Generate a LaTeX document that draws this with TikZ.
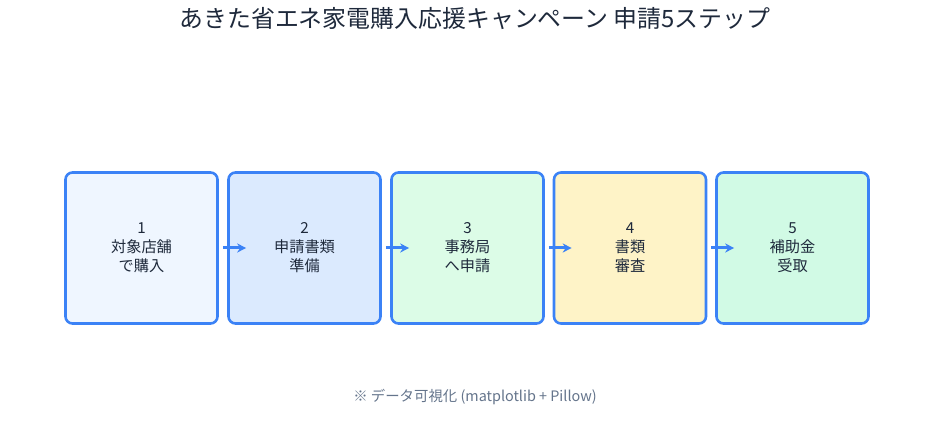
\documentclass[tikz,border=0pt]{standalone}
\usepackage{fontspec}
\setmainfont{Noto Sans CJK JP}
\usepackage{xcolor}
\usepackage{tikz}
\usetikzlibrary{arrows.meta, positioning}
\definecolor{stblue}{HTML}{3B82F6}
\definecolor{stink}{HTML}{1E293B}
\definecolor{stgray}{HTML}{64748B}
\definecolor{stfa}{HTML}{EFF6FF}
\definecolor{stfb}{HTML}{DBEAFE}
\definecolor{stfc}{HTML}{DCFCE7}
\definecolor{stfd}{HTML}{FEF3C7}
\definecolor{stfe}{HTML}{D1FAE5}

\begin{document}
\begin{tikzpicture}[
  x=1pt, y=-1pt,
  every node/.style={text=stink},
  stepbox/.style={rectangle, draw=stblue, line width=2.6pt, rounded corners=7pt,
                  minimum width=152pt, minimum height=151pt, align=center,
                  font=\fontsize{15.2}{19}\selectfont},
  arr/.style={-{Stealth[length=9pt, width=9pt]}, line width=3pt, color=stblue,
              shorten <=4pt, shorten >=-19pt},
  note/.style={font=\fontsize{14.4}{17}\selectfont, text=stgray},
]
\useasboundingbox (0,0) rectangle (950,443);

\node[font=\fontsize{23.9}{28}\selectfont] (title) at (475,19)
  {あきた省エネ家電購入応援キャンペーン 申請5ステップ};

\node[stepbox, fill=stfa] (s1) at (141.5,248) {1\\対象店舗\\で購入};
\node[stepbox, fill=stfb] (s2) at (304.5,248) {2\\申請書類\\準備};
\node[stepbox, fill=stfc] (s3) at (467.5,248) {3\\事務局\\へ申請};
\node[stepbox, fill=stfd] (s4) at (630,248)   {4\\書類\\審査};
\node[stepbox, fill=stfe] (s5) at (792.5,248) {5\\補助金\\受取};

\draw[arr] (s1) -- (s2);
\draw[arr] (s2) -- (s3);
\draw[arr] (s3) -- (s4);
\draw[arr] (s4) -- (s5);

\node[note] (foot) at (475,397) {※ データ可視化 (matplotlib + Pillow)};

\end{tikzpicture}
\end{document}
